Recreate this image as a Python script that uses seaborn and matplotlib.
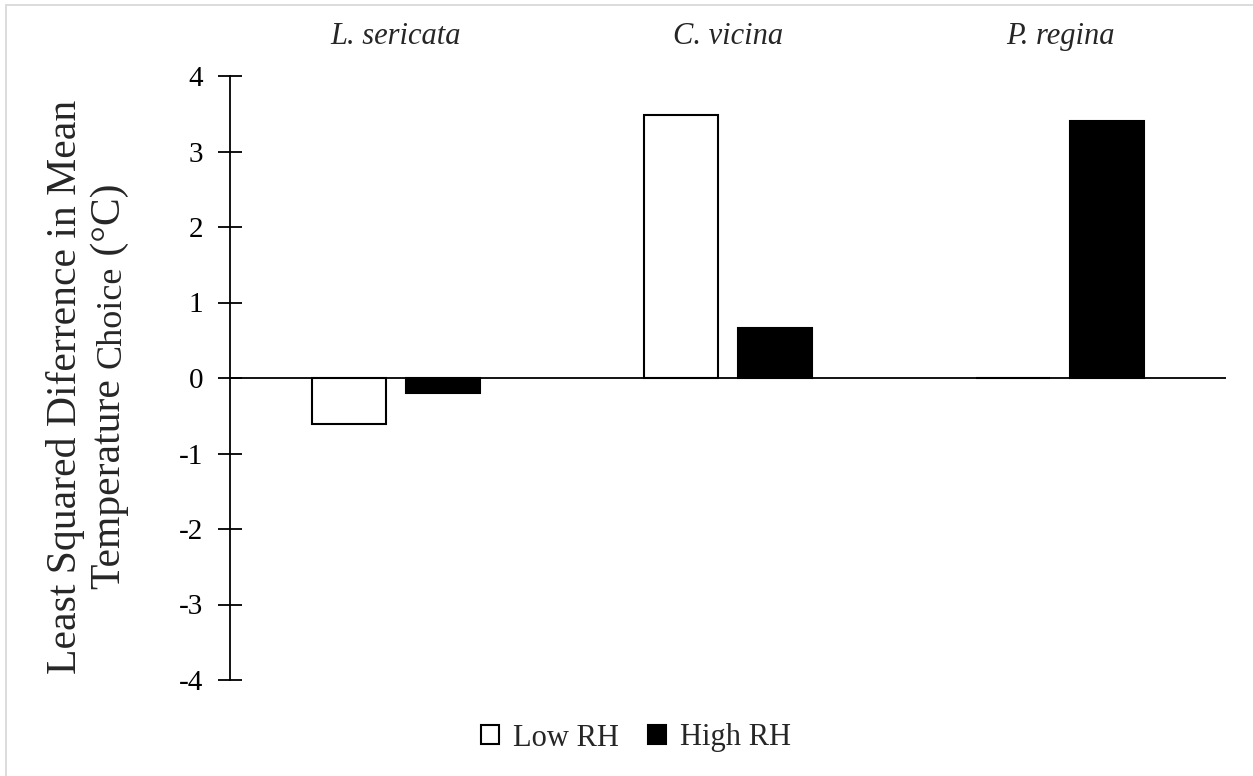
import matplotlib
matplotlib.use("Agg")
import matplotlib.pyplot as plt
import seaborn as sns
import pandas as pd
import numpy as np
from matplotlib.patches import Rectangle

# Data: least squared difference in mean temperature choice (°C)
species = ["L. sericata", "C. vicina", "P. regina"]
rh_levels = ["Low RH", "High RH"]
low_rh = [-0.61, 3.48, 0.0]
high_rh = [-0.20, 0.66, 3.40]
y_ticks = [-4, -3, -2, -1, 0, 1, 2, 3, 4]

df = pd.DataFrame({
    "species": species * 2,
    "rh": [rh_levels[0]] * 3 + [rh_levels[1]] * 3,
    "diff": low_rh + high_rh,
})

sns.set_theme(style="white")
plt.rcParams["font.family"] = ["Liberation Serif", "DejaVu Serif"]
plt.rcParams["axes.unicode_minus"] = False

W, H = 1253, 776
fig = plt.figure(figsize=(W / 100, H / 100), dpi=100)
fig.patch.set_facecolor("white")

# light frame along top and left
fig.add_artist(Rectangle((6 / W, -0.1), 1.2, 1 - 5 / H + 0.1, transform=fig.transFigure,
                         fill=False, edgecolor="#d9d9d9", linewidth=1.3))

ax = fig.add_axes([230 / W, 1 - 680 / H, (1226 - 230) / W, (680 - 76) / H])

sns.barplot(data=df, x="species", y="diff", hue="rh", order=species, hue_order=rh_levels,
            palette={"Low RH": "white", "High RH": "black"}, edgecolor="black",
            linewidth=1.5, width=0.569, gap=0.216, errorbar=None, ax=ax, zorder=2)

ax.set_ylim(-4, 4)
ax.set_xlim(-0.5, 2.5)
ax.set_yticks(y_ticks)
ax.set_yticklabels([str(t) for t in y_ticks])
ax.axhline(0, color="black", linewidth=1.3, zorder=3)

for s in ["top", "right", "bottom"]:
    ax.spines[s].set_visible(False)
ax.spines["left"].set_color("black")
ax.spines["left"].set_linewidth(1.3)
ax.tick_params(axis="y", left=True, direction="inout", length=17, width=1.3,
               colors="black", labelsize=21, pad=11)
ax.xaxis.tick_top()
ax.tick_params(axis="x", top=False, bottom=False, length=0, pad=18)
ax.set_xticks(range(len(species)))
ax.set_xticklabels(species, fontstyle="italic", fontsize=22)
ax.set_xlabel("")
ax.set_ylabel("")

# legend below the plot
sns.move_legend(ax, "center", bbox_to_anchor=(636 / W, 1 - 738 / H),
                bbox_transform=fig.transFigure, ncol=2, frameon=False, title=None,
                fontsize=22, handlelength=0.6, handleheight=0.6,
                handletextpad=0.45, columnspacing=0.95)

# y-axis title: two lines, with "Choice" set smaller
fig.text(76 / W, 1 - 387 / H, "Least Squared Diferrence in Mean", rotation=90,
         rotation_mode="anchor", ha="center", va="baseline", fontsize=30)

renderer = fig.canvas.get_renderer()
pieces = [("Temperature ", 30), ("Choice", 26), (" (°C)", 30)]
lengths = []
for txt, fs in pieces:
    t = fig.text(0, 0, txt, fontsize=fs)
    lengths.append(t.get_window_extent(renderer).width)
    t.remove()
total = sum(lengths)
y0 = (H - 386) - total / 2
for (txt, fs), L in zip(pieces, lengths):
    fig.text(120 / W, y0 / H, txt, rotation=90, rotation_mode="anchor",
             ha="left", va="baseline", fontsize=fs)
    y0 += L

fig.savefig("out.png", dpi=100, facecolor="white")
